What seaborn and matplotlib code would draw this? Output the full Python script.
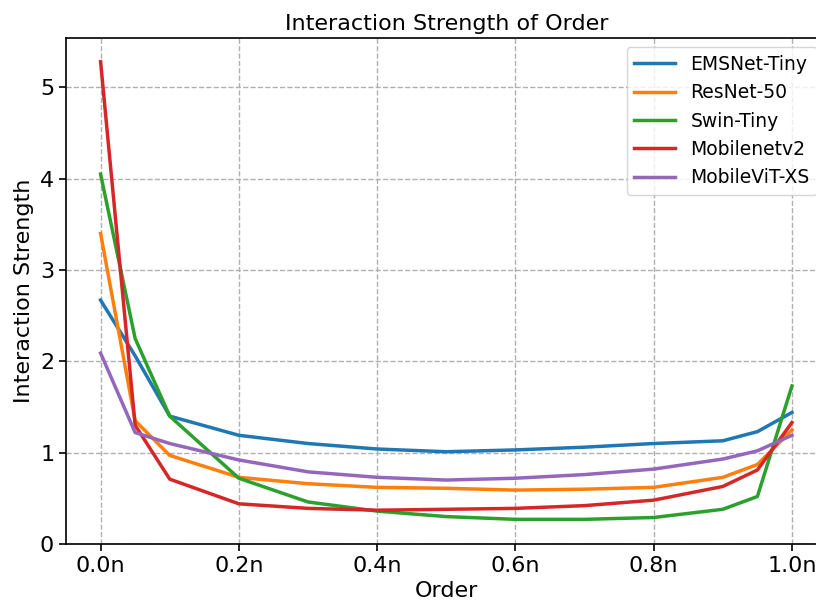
import matplotlib
matplotlib.use("Agg")
import matplotlib.pyplot as plt
import seaborn as sns
import pandas as pd

orders = [0.0, 0.05, 0.1, 0.2, 0.3, 0.4, 0.5, 0.6, 0.7, 0.8, 0.9, 0.95, 1.0]
emsnet = [2.67, 2.06, 1.40, 1.19, 1.10, 1.04, 1.01, 1.03, 1.06, 1.10, 1.13, 1.23, 1.44]
resnet = [3.40, 1.35, 0.97, 0.73, 0.66, 0.62, 0.61, 0.59, 0.60, 0.62, 0.73, 0.87, 1.25]
swin = [4.05, 2.25, 1.40, 0.72, 0.46, 0.36, 0.30, 0.27, 0.27, 0.29, 0.38, 0.52, 1.73]
mobilenet = [5.28, 1.30, 0.71, 0.44, 0.39, 0.37, 0.38, 0.39, 0.42, 0.48, 0.63, 0.81, 1.33]
mobilevit = [2.09, 1.22, 1.10, 0.92, 0.79, 0.73, 0.70, 0.72, 0.76, 0.82, 0.93, 1.02, 1.19]
models = ["EMSNet-Tiny", "ResNet-50", "Swin-Tiny", "Mobilenetv2", "MobileViT-XS"]
xticks = [0.0, 0.2, 0.4, 0.6, 0.8, 1.0]
xticklabels = ["0.0n", "0.2n", "0.4n", "0.6n", "0.8n", "1.0n"]

series = [emsnet, resnet, swin, mobilenet, mobilevit]
rows = []
for m, vals in zip(models, series):
    for o, v in zip(orders, vals):
        rows.append({"Order": o, "Interaction Strength": v, "Model": m})
df = pd.DataFrame(rows)

plt.rcParams['font.family'] = ['DejaVu Sans']
fig = plt.figure(figsize=(8.16, 6.07), dpi=100)
ax = fig.add_axes([0.0809, 0.1038, 1.0129 - 0.0809, 0.9374 - 0.1038])
sns.lineplot(data=df, x="Order", y="Interaction Strength", hue="Model",
             hue_order=models, palette="tab10", linewidth=2.5, ax=ax)
ax.grid(True, linestyle="--", color="#b0b0b0", linewidth=1)
ax.set_xlim(-0.05, 1.05)
ax.set_ylim(0, 5.54)
ax.set_xticks(xticks)
ax.set_xticklabels(xticklabels)
ax.tick_params(labelsize=16, length=5, width=1.2)
ax.set_xlabel("Order", fontsize=16)
ax.set_ylabel("Interaction Strength", fontsize=16)
ax.set_title("Interaction Strength of Order", fontsize=16)
ax.legend(title=None, fontsize=13.5, loc="upper right", handlelength=2.2)
for s in ax.spines.values():
    s.set_linewidth(1.2)
fig.savefig("out.png", dpi=100)
